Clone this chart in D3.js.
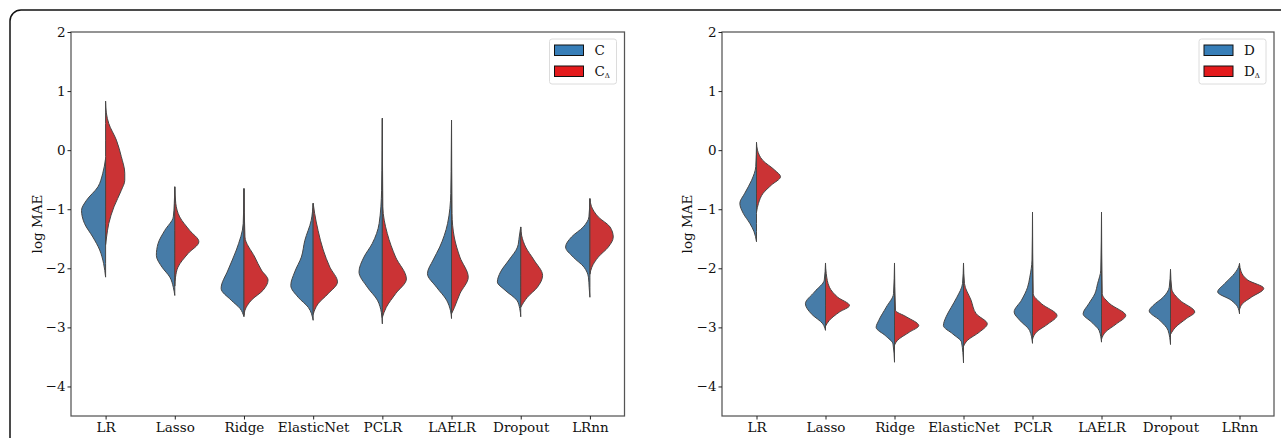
<!DOCTYPE html>
<html>
<head>
<meta charset="utf-8">
<script src="https://cdn.jsdelivr.net/npm/d3@7"></script>
<style>
    body { margin: 0; background: #fff; }
    text { font-family: "DejaVu Serif", serif; }
</style>
</head>
<body>
<div id="chart"></div>
<script>
/*
split violin plots of log MAE per model, two datasets side by side
 */

//categories and ticks:
var models = ["LR", "Lasso", "Ridge", "ElasticNet", "PCLR", "LAELR", "Dropout", "LRnn"];
var yTicks = [2, 1, 0, -1, -2, -3, -4];

//density profiles: [log MAE, relative density]
//left panel, series C
var densC = [
    [[-0.14, 0], [-0.4, 0.12], [-0.62, 0.31], [-0.85, 0.78], [-1.02, 0.98], [-1.24, 0.86], [-1.47, 0.52], [-1.69, 0.24], [-1.92, 0.08], [-2.15, 0]],
    [[-0.62, 0], [-0.9, 0.02], [-1.13, 0.06], [-1.36, 0.41], [-1.58, 0.68], [-1.78, 0.75], [-1.98, 0.52], [-2.15, 0.2], [-2.32, 0.06], [-2.46, 0]],
    [[-0.65, 0], [-1.24, 0.03], [-1.69, 0.31], [-2.03, 0.65], [-2.34, 0.93], [-2.54, 0.52], [-2.68, 0.16], [-2.82, 0]],
    [[-0.9, 0], [-1.19, 0.08], [-1.53, 0.34], [-1.81, 0.48], [-2.06, 0.75], [-2.29, 0.91], [-2.49, 0.61], [-2.66, 0.2], [-2.88, 0]],
    [[0.54, 0], [0, 0.01], [-0.68, 0.03], [-1.24, 0.13], [-1.58, 0.41], [-1.81, 0.75], [-2.06, 0.95], [-2.32, 0.61], [-2.54, 0.2], [-2.75, 0.04], [-2.94, 0]],
    [[0.51, 0], [0, 0.01], [-0.73, 0.03], [-1.24, 0.16], [-1.64, 0.48], [-1.86, 0.75], [-2.09, 0.98], [-2.32, 0.61], [-2.54, 0.2], [-2.72, 0.04], [-2.85, 0]],
    [[-1.3, 0], [-1.47, 0.06], [-1.64, 0.13], [-1.86, 0.48], [-2.06, 0.82], [-2.23, 0.95], [-2.37, 0.64], [-2.54, 0.16], [-2.68, 0.04], [-2.82, 0]],
    [[-0.82, 0], [-1.13, 0.04], [-1.3, 0.27], [-1.47, 0.75], [-1.64, 0.99], [-1.81, 0.68], [-1.98, 0.24], [-2.15, 0.06], [-2.32, 0.03], [-2.49, 0]]
];
//left panel, series C delta
var densCd = [
    [[0.83, 0], [0.63, 0.03], [0.45, 0.13], [0.17, 0.44], [-0.11, 0.64], [-0.39, 0.78], [-0.51, 0.78], [-0.68, 0.64], [-0.96, 0.34], [-1.24, 0.13], [-1.47, 0.04], [-1.6, 0]],
    [[-0.62, 0], [-0.9, 0.04], [-1.13, 0.2], [-1.36, 0.61], [-1.55, 0.98], [-1.75, 0.54], [-1.98, 0.13], [-2.15, 0.03], [-2.3, 0]],
    [[-0.65, 0], [-1.47, 0.04], [-1.81, 0.44], [-2.03, 0.71], [-2.2, 0.98], [-2.37, 0.78], [-2.54, 0.3], [-2.71, 0.04], [-2.8, 0]],
    [[-0.9, 0], [-1.07, 0.06], [-1.36, 0.2], [-1.69, 0.41], [-1.98, 0.68], [-2.23, 0.99], [-2.43, 0.61], [-2.6, 0.2], [-2.78, 0]],
    [[0.54, 0], [-0.96, 0.02], [-1.41, 0.2], [-1.81, 0.54], [-2.18, 0.98], [-2.43, 0.54], [-2.66, 0.16], [-2.83, 0]],
    [[0.51, 0], [-1.07, 0.02], [-1.47, 0.11], [-1.81, 0.34], [-2.15, 0.68], [-2.43, 0.34], [-2.66, 0.12], [-2.77, 0]],
    [[-1.3, 0], [-1.45, 0.04], [-1.64, 0.2], [-1.86, 0.54], [-2.12, 0.89], [-2.32, 0.68], [-2.49, 0.27], [-2.66, 0]],
    [[-0.82, 0], [-0.95, 0.06], [-1.13, 0.34], [-1.3, 0.82], [-1.47, 0.95], [-1.64, 0.75], [-1.81, 0.34], [-1.98, 0.08], [-2.1, 0]]
];
//right panel, series D
var densD = [
    [[0.13, 0], [-0.28, 0.03], [-0.51, 0.2], [-0.73, 0.48], [-0.9, 0.68], [-1.07, 0.54], [-1.24, 0.27], [-1.38, 0.1], [-1.55, 0]],
    [[-1.91, 0], [-2.2, 0.05], [-2.4, 0.45], [-2.6, 0.82], [-2.77, 0.58], [-2.94, 0.11], [-3.05, 0]],
    [[-1.91, 0], [-2.43, 0.04], [-2.66, 0.34], [-2.88, 0.64], [-3.0, 0.75], [-3.14, 0.37], [-3.28, 0.06], [-3.59, 0]],
    [[-1.91, 0], [-2.26, 0.04], [-2.49, 0.27], [-2.66, 0.5], [-2.82, 0.71], [-2.97, 0.82], [-3.11, 0.44], [-3.25, 0.08], [-3.6, 0]],
    [[-1.05, 0], [-1.86, 0.02], [-2.15, 0.11], [-2.32, 0.2], [-2.54, 0.45], [-2.74, 0.75], [-2.88, 0.52], [-3.05, 0.12], [-3.27, 0]],
    [[-1.05, 0], [-2.03, 0.03], [-2.26, 0.16], [-2.43, 0.27], [-2.6, 0.52], [-2.77, 0.75], [-2.91, 0.41], [-3.05, 0.1], [-3.25, 0]],
    [[-2.02, 0], [-2.32, 0.05], [-2.49, 0.3], [-2.63, 0.71], [-2.72, 0.87], [-2.88, 0.44], [-3.05, 0.1], [-3.29, 0]],
    [[-1.92, 0], [-1.98, 0.04], [-2.12, 0.27], [-2.26, 0.61], [-2.4, 0.89], [-2.54, 0.34], [-2.65, 0.08], [-2.77, 0]]
];
//right panel, series D delta
var densDd = [
    [[0.13, 0], [0.0, 0.04], [-0.17, 0.25], [-0.34, 0.75], [-0.45, 0.98], [-0.59, 0.61], [-0.73, 0.27], [-0.9, 0.08], [-1.05, 0]],
    [[-1.91, 0], [-2.09, 0.03], [-2.32, 0.16], [-2.49, 0.5], [-2.63, 0.98], [-2.74, 0.57], [-2.88, 0.16], [-2.98, 0]],
    [[-1.91, 0], [-2.71, 0.04], [-2.82, 0.48], [-2.97, 0.99], [-3.08, 0.61], [-3.22, 0.12], [-3.3, 0]],
    [[-1.91, 0], [-2.26, 0.04], [-2.54, 0.31], [-2.77, 0.52], [-2.94, 0.97], [-3.08, 0.65], [-3.22, 0.16], [-3.32, 0]],
    [[-1.05, 0], [-2.43, 0.03], [-2.6, 0.37], [-2.8, 1.0], [-2.94, 0.64], [-3.08, 0.16], [-3.2, 0]],
    [[-1.05, 0], [-2.43, 0.03], [-2.6, 0.34], [-2.8, 0.99], [-2.94, 0.61], [-3.08, 0.16], [-3.2, 0]],
    [[-2.02, 0], [-2.35, 0.05], [-2.54, 0.38], [-2.74, 0.99], [-2.85, 0.65], [-3.0, 0.2], [-3.12, 0]],
    [[-1.92, 0], [-2.05, 0.06], [-2.2, 0.34], [-2.34, 0.99], [-2.49, 0.48], [-2.6, 0.12], [-2.7, 0]]
];

//colours (legend uses raw Set1, violins the desaturated ones)
var legendBlue = "#377eb8", legendRed = "#e41a1c";
var fillBlue = "#477ca8", fillRed = "#cb3335";

var width = 1281, height = 438;

var svg = d3.select("#chart")
    .append("svg")
    .attr("width", width)
    .attr("height", height);

//outer rounded frame, runs off the right and bottom edges
svg.append("rect")
    .attr("x", 10).attr("y", 10)
    .attr("width", 1300).attr("height", 460)
    .attr("rx", 11).attr("ry", 11)
    .attr("fill", "none")
    .attr("stroke", "#111")
    .attr("stroke-width", 1.5);

function ViolinPanel(left, right, top, bottom, blueDens, redDens, label, labelX) {
    var g = svg.append("g");

    var xScale = d3.scaleLinear().domain([-0.5, models.length - 0.5]).range([left, right]);
    var yScale = d3.scaleLinear().domain([-4.5, 2]).range([bottom, top]);
    //relative density 1 -> 0.355 of a category slot
    var wScale = d3.scaleLinear().domain([0, 1]).range([0, 0.355]);

    function half(i, side) {
        return d3.area()
            .curve(d3.curveMonotoneY)
            .y(function (d) { return yScale(d[0]); })
            .x0(function () { return xScale(i); })
            .x1(function (d) { return xScale(i + side * wScale(d[1])); });
    }

    models.forEach(function (m, i) {
        g.append("path")
            .attr("d", half(i, -1)(blueDens[i]))
            .attr("fill", fillBlue)
            .attr("stroke", "#464646")
            .attr("stroke-width", 1)
            .attr("stroke-linejoin", "round");
        g.append("path")
            .attr("d", half(i, 1)(redDens[i]))
            .attr("fill", fillRed)
            .attr("stroke", "#464646")
            .attr("stroke-width", 1)
            .attr("stroke-linejoin", "round");
    });

    //spines
    g.append("rect")
        .attr("x", left).attr("y", top)
        .attr("width", right - left).attr("height", bottom - top)
        .attr("fill", "none")
        .attr("stroke", "#555")
        .attr("stroke-width", 1.25);

    var yAxis = d3.axisLeft(yScale).tickValues(yTicks).tickFormat(d3.format("d"))
        .tickSize(3.5).tickPadding(2);
    var xAxis = d3.axisBottom(xScale).tickValues(d3.range(models.length))
        .tickFormat(function (d) { return models[d]; }).tickSize(3.5).tickPadding(2.5);

    var ya = g.append("g")
        .attr("transform", "translate(" + left + ",0)")
        .call(yAxis);
    var xa = g.append("g")
        .attr("transform", "translate(0," + bottom + ")")
        .call(xAxis);
    [ya, xa].forEach(function (a) {
        a.select(".domain").remove();
        a.selectAll("line").attr("stroke", "#222").attr("stroke-width", 1);
        a.selectAll("text")
            .attr("fill", "#111")
            .style("font-family", "'DejaVu Serif', serif")
            .style("font-size", "13.5px");
    });

    g.append("text")
        .attr("transform", "translate(" + labelX + "," + ((top + bottom) / 2) + ") rotate(-90)")
        .attr("text-anchor", "middle")
        .style("font-size", "13.5px")
        .attr("fill", "#111")
        .text("log MAE");

    //legend
    var lg = g.append("g").attr("transform", "translate(" + (right - 75) + "," + (top + 7) + ")");
    lg.append("rect")
        .attr("width", 67).attr("height", 45)
        .attr("rx", 2.5)
        .attr("fill", "#fff")
        .attr("stroke", "#dcdcdc")
        .attr("stroke-width", 1);
    [[legendBlue, ""], [legendRed, "\u0394"]].forEach(function (e, k) {
        lg.append("rect")
            .attr("x", 5).attr("y", 6 + k * 21)
            .attr("width", 29).attr("height", 10.5)
            .attr("fill", e[0])
            .attr("stroke", "#111")
            .attr("stroke-width", 1);
        var t = lg.append("text")
            .attr("x", 45).attr("y", 16 + k * 21)
            .style("font-size", "13.5px")
            .attr("fill", "#111")
            .text(label);
        if (e[1]) {
            t.append("tspan")
                .attr("dy", 1.5)
                .style("font-size", "7px")
                .text(e[1]);
        }
    });
}

ViolinPanel(71, 624.5, 32, 416, densC, densCd, "C", 42);
ViolinPanel(722, 1274, 32, 416, densD, densDd, "D", 692);
</script>
</body>
</html>
